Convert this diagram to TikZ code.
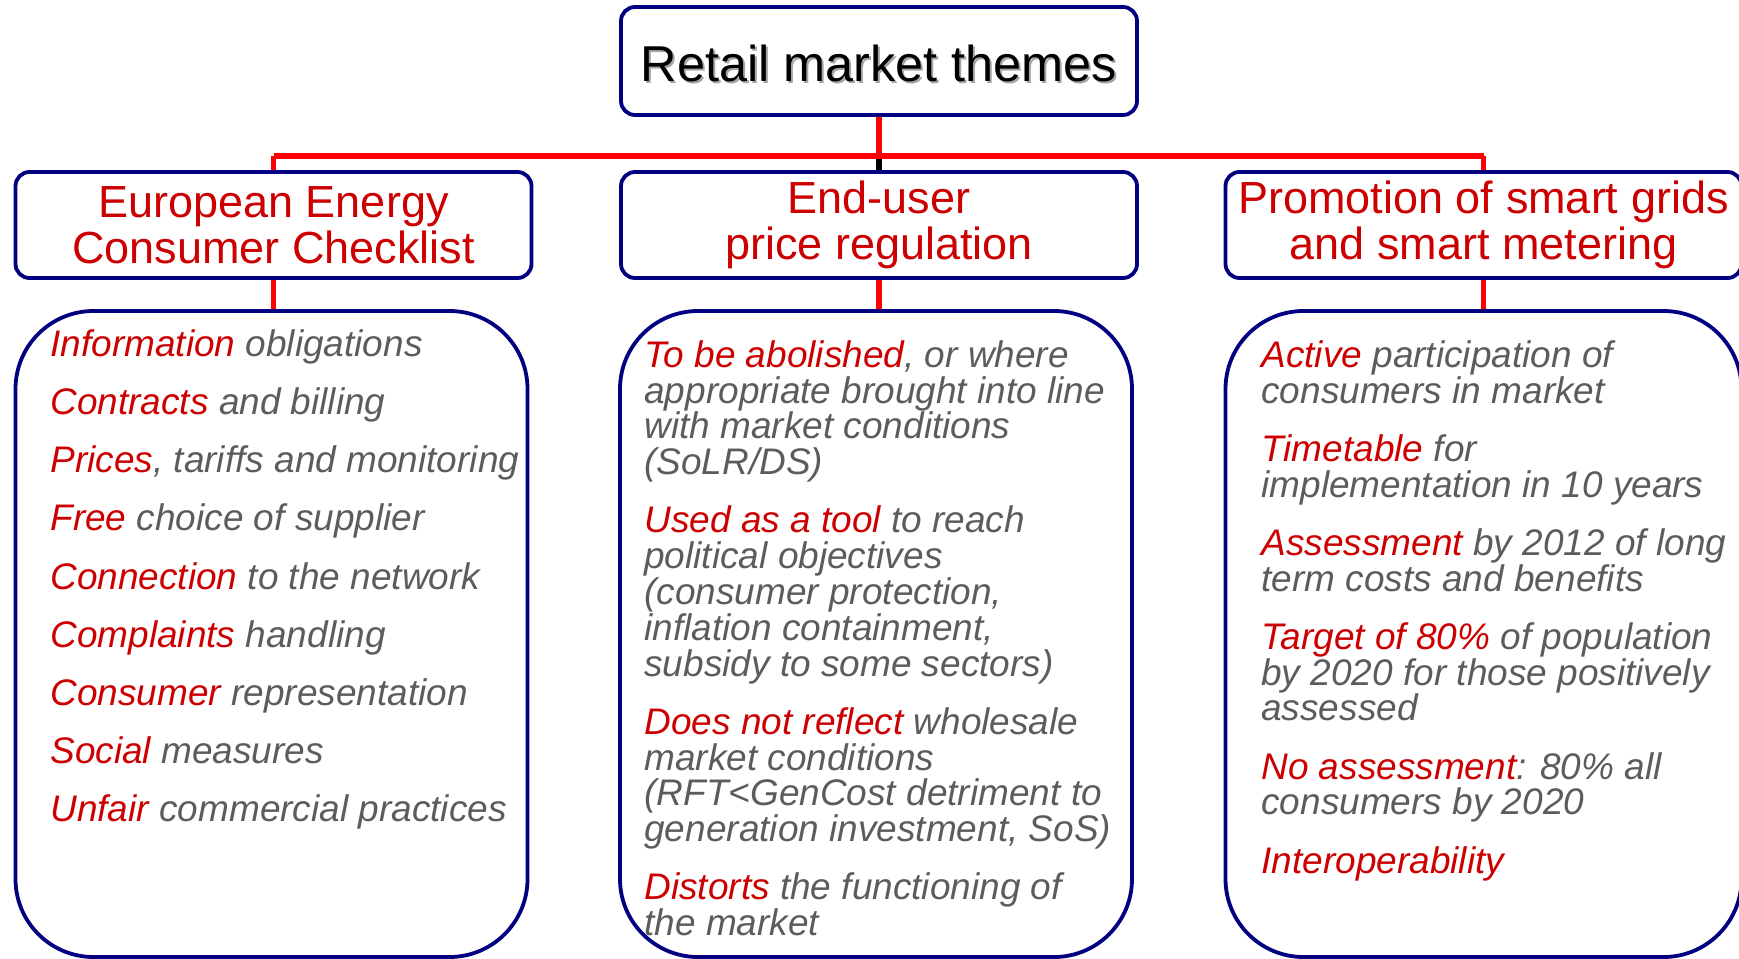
\documentclass[tikz,border=0pt]{standalone}
\usepackage{fontspec}
\setmainfont{Liberation Sans}
\definecolor{navy}{RGB}{0,0,128}
\definecolor{hred}{RGB}{204,0,0}
\definecolor{itgray}{RGB}{92,92,92}
\definecolor{shadowgray}{RGB}{165,165,165}
\newcommand{\kw}[1]{\textcolor{hred}{#1}}
\begin{document}
\begin{tikzpicture}[x=0.5pt,y=-0.5pt,line join=round,
    themebox/.style={draw=navy,line width=1.9pt,rounded corners=7pt,fill=white,align=center,inner sep=0pt,minimum width=258pt,minimum height=53pt},
    listbox/.style={draw=navy,line width=1.9pt,rounded corners=39pt,inner sep=0pt,minimum height=323pt},
    headfont/.style={font=\fontsize{22.5pt}{22.75pt}\selectfont,text=hred},
    titlefont/.style={font=\fontsize{25.2pt}{26pt}\selectfont},
    listtext/.style={anchor=north west,align=left,inner sep=0pt,text=itgray,font=\fontsize{18.5pt}{17.9pt}\selectfont\itshape},
    redline/.style={red,line width=2.8pt}]
	\def\gap{\\[11.2pt]}
	\useasboundingbox (0,0) rectangle (1739,958);
	\clip (0,0) rectangle (1739,958);
	% title with its drop shadow
	\node[themebox,minimum height=54pt] (top) at (879,61) {};
	\node[titlefont,text=shadowgray] at (881,65) {Retail market themes};
	\node[titlefont] (title) at (879,63) {Retail market themes};
	% three themes
	\node[themebox,headfont] (hleft) at (273.5,225) {European Energy\\Consumer Checklist};
	\node[themebox,headfont] (hmid) at (879,225) {End-user\\price regulation};
	\node[themebox,headfont] (hright) at (1483.5,225) {Promotion of smart grids\\and smart metering};
	\node[listbox,minimum width=256pt] (cleft) at (271.5,634) {};
	\node[listbox,minimum width=256pt] (cmid) at (876,634) {};
	\node[listbox,minimum width=258pt] (cright) at (1483.5,634) {};
	% connectors
	\coordinate (busL) at (hleft.north |- 0,156);
	\coordinate (busM) at (top.south |- 0,156);
	\coordinate (busR) at (hright.north |- 0,156);
	\draw[line width=2.8pt] (busM) -- (busM |- hmid.north);
	\draw[redline] (busL) -- (busR);
	\draw[redline] (top.south) -- (busM);
	\draw[redline] (busL) -- (hleft.north);
	\draw[redline] (busR) -- (hright.north);
	\draw[redline] (hleft.south) -- (hleft.south |- cleft.north);
	\draw[redline] (hmid.south) -- (hmid.south |- cmid.north);
	\draw[redline] (hright.south) -- (hright.south |- cright.north);
	% lists
	\node[listtext] (tleft) at (50,329) {%
		\kw{Information} obligations\gap
		\kw{Contracts} and billing\gap
		\kw{Prices}, tariffs and monitoring\gap
		\kw{Free} choice of supplier\gap
		\kw{Connection} to the network\gap
		\kw{Complaints} handling\gap
		\kw{Consumer} representation\gap
		\kw{Social} measures\gap
		\kw{Unfair} commercial practices};
	\node[listtext] (tmid) at (644,340) {%
		\kw{To be abolished}, or where\\
		appropriate brought into line\\
		with market conditions\\
		(SoLR/DS)\gap
		\kw{Used as a tool} to reach\\
		political objectives\\
		(consumer protection,\\
		inflation containment,\\
		subsidy to some sectors)\gap
		\kw{Does not reflect} wholesale\\
		market conditions\\
		(RFT<GenCost detriment to\\
		generation investment, SoS)\gap
		\kw{Distorts} the functioning of\\
		the market};
	\node[listtext] (tright) at (1261,340) {%
		\kw{Active} participation of\\
		consumers in market\gap
		\kw{Timetable} for\\
		implementation in 10 years\gap
		\kw{Assessment} by 2012 of long\\
		term costs and benefits\gap
		\kw{Target of 80\%} of population\\
		by 2020 for those positively\\
		assessed\gap
		\kw{No assessment}: 80\% all\\
		consumers by 2020\gap
		\kw{Interoperability}};
\end{tikzpicture}
\end{document}
